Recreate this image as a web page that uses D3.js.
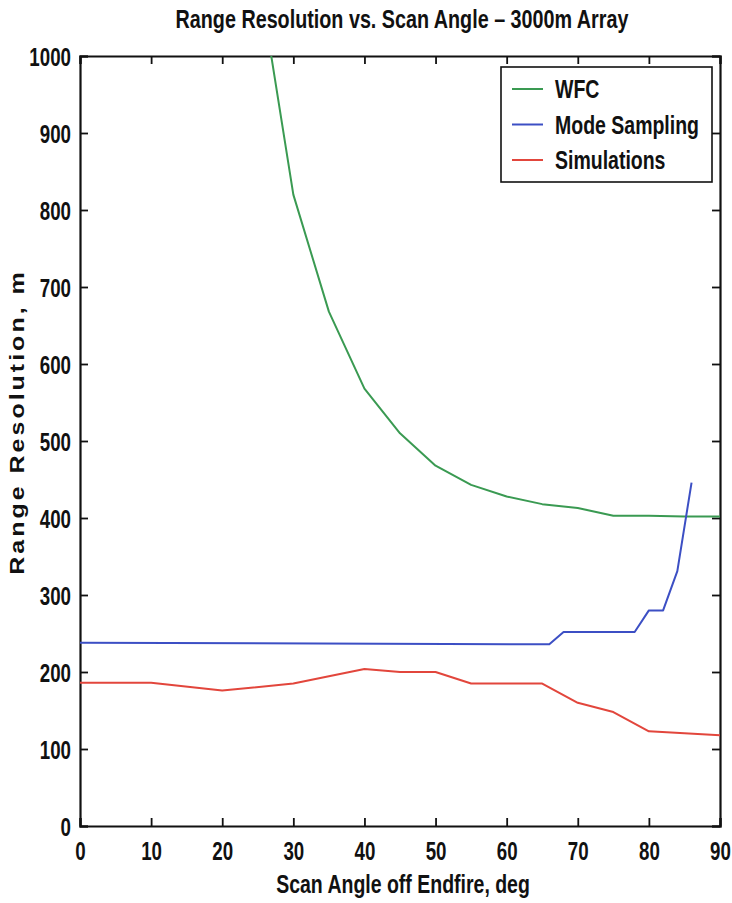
<!DOCTYPE html>
<html>
<head>
<meta charset="utf-8">
<script src="https://cdn.jsdelivr.net/npm/d3@7/dist/d3.min.js"></script>
<style>
  html, body { margin: 0; padding: 0; background: #fff; }
  svg { display: block; }
  .cond { font-family: "Liberation Sans", Arial, sans-serif; font-weight: bold; }
</style>
</head>
<body>
<div id="chart"></div>
<script>
// Scan angle tick labels
const xTicks = [0, 10, 20, 30, 40, 50, 60, 70, 80, 90];
const yTicks = [0, 100, 200, 300, 400, 500, 600, 700, 800, 900, 1000];

// WFC prediction (deg, m)
const wfcAngle = [25, 30, 35, 40, 45, 50, 55, 60, 65, 70, 75, 80, 85, 90];
const wfcRes   = [1110, 820, 668, 568, 510, 468, 443, 428, 418, 413, 403, 403, 402, 402];

// Mode sampling estimate
const modeAngle = [0, 66, 68, 78, 80, 82, 84, 86];
const modeRes   = [238, 236, 252, 252, 280, 280, 331, 446];

// Simulation results
const simAngle = [0, 10, 20, 30, 40, 45, 50, 55, 65, 70, 75, 80, 90];
const simRes   = [186, 186, 176, 185, 204, 200, 200, 185, 185, 160, 148, 123, 118];

const seriesNames = ["WFC", "Mode Sampling", "Simulations"];
const seriesColors = ["#3a9a52", "#3c4fc4", "#e2463c"];

const W = 732, H = 903;
const m = { left: 80, right: 12, top: 56, bottom: 77 };
const iw = W - m.left - m.right, ih = H - m.top - m.bottom;
const SQUEEZE = 0.72;   // horizontal squeeze for the condensed face

const svg = d3.select("#chart").append("svg").attr("width", W).attr("height", H);

const x = d3.scaleLinear().domain([0, 90]).range([m.left, m.left + iw]);
const y = d3.scaleLinear().domain([0, 1000]).range([m.top + ih, m.top]);

// Condensed bold text placed at (px, py)
function condText(parent, px, py, str, size, anchor, f) {
  return parent.append("text").attr("class", "cond")
    .attr("transform", `translate(${px},${py}) scale(${f},1)`)
    .attr("text-anchor", anchor || "start")
    .attr("font-size", size).attr("fill", "#111")
    .text(str);
}

svg.append("defs").append("clipPath").attr("id", "plotClip")
  .append("rect").attr("x", m.left).attr("y", m.top).attr("width", iw).attr("height", ih);

// Title
condText(svg, 402, 28, "Range Resolution vs. Scan Angle \u2013 3000m Array", 26, "middle", 0.76);

// Axes with inward ticks on all sides
const tickLen = 8;
const gx = svg.append("g").attr("transform", `translate(0,${m.top + ih})`)
  .call(d3.axisBottom(x).tickValues(xTicks).tickSize(-tickLen).tickPadding(tickLen + 7).tickFormat(d3.format("d")));
const gxt = svg.append("g").attr("transform", `translate(0,${m.top})`)
  .call(d3.axisTop(x).tickValues(xTicks).tickSize(-tickLen).tickFormat(""));
const gy = svg.append("g").attr("transform", `translate(${m.left},0)`)
  .call(d3.axisLeft(y).tickValues(yTicks).tickSize(-tickLen).tickPadding(tickLen + 1).tickFormat(d3.format("d")));
const gyr = svg.append("g").attr("transform", `translate(${m.left + iw},0)`)
  .call(d3.axisRight(y).tickValues(yTicks).tickSize(-tickLen).tickFormat(""));

[gx, gxt, gy, gyr].forEach(g => {
  g.select(".domain").attr("stroke", "#111").attr("stroke-width", 2.2);
  g.selectAll(".tick line").attr("stroke", "#111").attr("stroke-width", 1.8);
  g.selectAll(".tick text").attr("class", "cond").attr("font-size", 26).attr("fill", "#111");
});
gy.selectAll(".tick text").attr("dy", "0.36em");
gx.selectAll(".tick text").attr("dy", "0.72em");
// squeeze tick labels about their own anchor
[gx, gy].forEach(g => g.selectAll(".tick text").each(function () {
  const t = d3.select(this);
  const tx = +t.attr("x") || 0;
  t.attr("x", tx / SQUEEZE).attr("transform", `scale(${SQUEEZE},1)`);
}));

// Axis titles
condText(svg, 403, 893, "Scan Angle off Endfire, deg", 25, "middle", 0.78);

svg.append("text")
  .attr("transform", `translate(24,422) rotate(-90) scale(1.25,1)`)
  .attr("text-anchor", "middle")
  .attr("font-family", "Liberation Sans, Arial, sans-serif")
  .attr("font-weight", "bold").attr("font-size", 20)
  .attr("letter-spacing", 2.4).attr("fill", "#111")
  .text("Range Resolution, m");

// Lines
const line = d3.line().x(d => x(d[0])).y(d => y(d[1]));
const series = [
  d3.zip(wfcAngle, wfcRes),
  d3.zip(modeAngle, modeRes),
  d3.zip(simAngle, simRes)
];
const plot = svg.append("g").attr("clip-path", "url(#plotClip)");
series.forEach((s, i) => {
  plot.append("path").datum(s).attr("d", line)
    .attr("fill", "none").attr("stroke", seriesColors[i])
    .attr("stroke-width", 2).attr("stroke-linejoin", "round");
});

// Legend
const lg = svg.append("g");
lg.append("rect").attr("x", 501).attr("y", 67).attr("width", 211).attr("height", 115)
  .attr("fill", "#fff").attr("stroke", "#111").attr("stroke-width", 1.6);
seriesNames.forEach((name, i) => {
  const ly = 89 + i * 35.5;
  lg.append("line").attr("x1", 512).attr("x2", 543).attr("y1", ly).attr("y2", ly)
    .attr("stroke", seriesColors[i]).attr("stroke-width", 2);
  condText(lg, 555, ly + 9, name, 26, "start", 0.75);
});
</script>
</body>
</html>
